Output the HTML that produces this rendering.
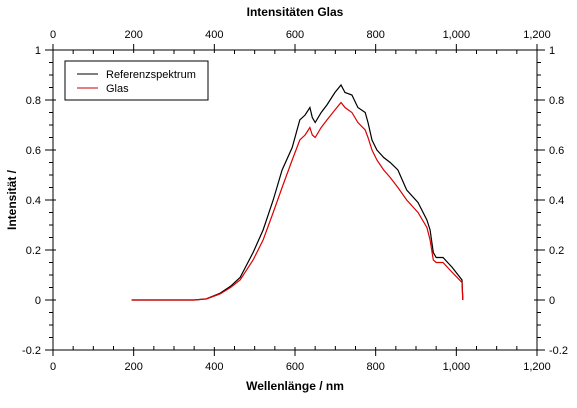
<!DOCTYPE html>
<html><head><meta charset="utf-8"><style>
body{margin:0;background:#fff;font-family:"Liberation Sans","DejaVu Sans",sans-serif;}
svg text{font-size:11px;fill:#000;font-family:"Liberation Sans","DejaVu Sans",sans-serif}
</style></head><body>
<svg width="577" height="403">
<g id="axes"></g><g id="plot"></g>
<text x="295" y="16" text-anchor="middle" font-weight="bold" style="font-size:12px">Intensitäten Glas</text>
<text x="295" y="390" text-anchor="middle" font-weight="bold" style="font-size:12px">Wellenlänge / nm</text>
<text transform="translate(16,200) rotate(-90)" text-anchor="middle" font-weight="bold" style="font-size:12px">Intensität /</text>
<g>
<rect x="65" y="61" width="143" height="39" fill="#fff" stroke="#000"/>
<line x1="77" y1="74" x2="98" y2="74" stroke="#000"/>
<text x="106" y="78">Referenzspektrum</text>
<line x1="77" y1="88" x2="98" y2="88" stroke="#c00"/>
<text x="106" y="92">Glas</text>
</g>
</svg>
<script>
const wavelengths=[195,350,380,414,440,464,496,521,546,568,593,612,625,637,643,650,665,679,699,714,724,741,756,774,781,791,803,820,836,855,877,905,927,935,943,950,967,990,1014,1016];
const referenz=[0,0,0.005,0.027,0.055,0.09,0.19,0.28,0.40,0.52,0.61,0.72,0.74,0.77,0.73,0.71,0.75,0.78,0.83,0.86,0.83,0.82,0.77,0.75,0.71,0.64,0.60,0.57,0.55,0.52,0.44,0.39,0.32,0.28,0.19,0.17,0.17,0.13,0.08,0];
const glas=[0,0,0.004,0.024,0.05,0.08,0.16,0.24,0.35,0.45,0.56,0.64,0.66,0.69,0.66,0.65,0.69,0.72,0.76,0.79,0.77,0.75,0.71,0.68,0.65,0.60,0.56,0.52,0.49,0.45,0.40,0.35,0.29,0.24,0.16,0.15,0.15,0.11,0.07,0];
const xTicks=[0,200,400,600,800,1000,1200];
const xTickLabels=["0","200","400","600","800","1,000","1,200"];
const yTicks=[-0.2,0,0.2,0.4,0.6,0.8,1];
const yTickLabels=["-0.2","0","0.2","0.4","0.6","0.8","1"];
const L=53,R=537,T=50,B=350;
const xs=v=>L+(v-0)/1200*(R-L);
const ys=v=>B-(v+0.2)/1.2*(B-T);
const NS="http://www.w3.org/2000/svg";
const ax=document.getElementById('axes'),pl=document.getElementById('plot');
function mk(tag,at,par){const e=document.createElementNS(NS,tag);for(const k in at)e.setAttribute(k,at[k]);par.appendChild(e);return e;}
const frame=mk('rect',{x:L,y:T,width:R-L,height:B-T,fill:'none',stroke:'#000'},ax);


for(let i=0;i<xTicks.length;i++){
  const x=xs(xTicks[i]);
  mk('line',{x1:x,y1:T-6,x2:x,y2:T+3,stroke:'#000'},ax);
  mk('line',{x1:x,y1:B-3,x2:x,y2:B+6,stroke:'#000'},ax);
  if(i<xTicks.length-1){for(let m=1;m<4;m++){const xm=xs(xTicks[i]+m*50);
    mk('line',{x1:xm,y1:T,x2:xm,y2:T+4,stroke:'#000'},ax);mk('line',{x1:xm,y1:B-4,x2:xm,y2:B,stroke:'#000'},ax);}}
  const t1=mk('text',{x:x,y:T-12,'text-anchor':'middle'},ax);t1.textContent=xTickLabels[i];
  
  
  const t2=mk('text',{x:x,y:B+20,'text-anchor':'middle'},ax);t2.textContent=xTickLabels[i];
  
  
}
for(let i=0;i<yTicks.length;i++){
  const y=ys(yTicks[i]);
  mk('line',{x1:L-8,y1:y,x2:L+3,y2:y,stroke:'#000'},ax);
  mk('line',{x1:R-3,y1:y,x2:R+8,y2:y,stroke:'#000'},ax);
  if(i<yTicks.length-1){for(let m=1;m<4;m++){const ym=ys(yTicks[i]+m*0.05);
    mk('line',{x1:L-4,y1:ym,x2:L,y2:ym,stroke:'#000'},ax);mk('line',{x1:R,y1:ym,x2:R+4,y2:ym,stroke:'#000'},ax);}}
  const t1=mk('text',{x:L-12,y:y+4,'text-anchor':'end'},ax);t1.textContent=yTickLabels[i];
  
  
  const t2=mk('text',{x:R+12,y:y+4,'text-anchor':'start'},ax);t2.textContent=yTickLabels[i];
  
  
}
function line(vals,color,name){
  const d=vals.map((v,i)=>(i?'L':'M')+xs(wavelengths[i]).toFixed(1)+','+ys(v).toFixed(1)).join('');
  const p=mk('path',{d:d,fill:'none',stroke:color,'stroke-width':1.2},pl);
  
  
}
line(referenz,'#000','series-referenzspektrum');
line(glas,'#d00','series-glas');
</script>
</body></html>
